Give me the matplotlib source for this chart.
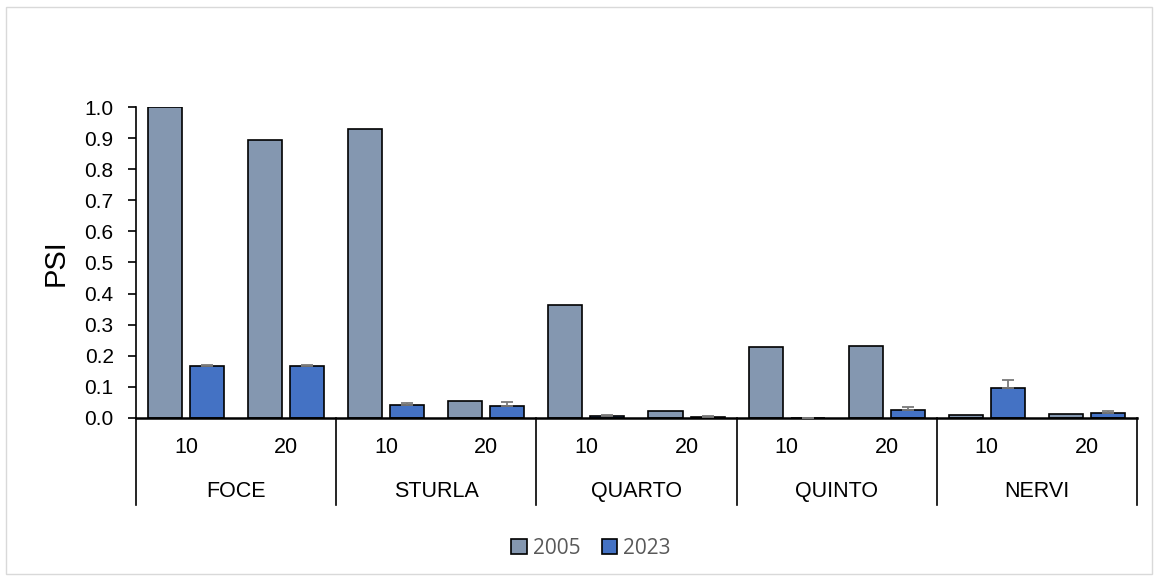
import matplotlib
matplotlib.use('Agg')
import matplotlib.pyplot as plt
import numpy as np
from matplotlib.patches import Rectangle

plt.rcParams['font.family'] = ['Liberation Sans', 'DejaVu Sans']

SITES  = ["FOCE", "STURLA", "QUARTO", "QUINTO", "NERVI"]
DEPTHS = ["10", "20"]

# PSI per site/depth, ordered FOCE10, FOCE20, STURLA10, ...
psi_2005 = [1.000, 0.895, 0.928, 0.056, 0.363, 0.023, 0.229, 0.231, 0.011, 0.013]
psi_2023 = [0.167, 0.167, 0.043, 0.040, 0.007, 0.004, 0.000, 0.027, 0.095, 0.016]
err_2023 = [0.002, 0.002, 0.006, 0.011, 0.003, 0.002, 0.000, 0.008, 0.026, 0.007]

C_2005 = '#8497B0'
C_2023 = '#4472C4'

fig = plt.figure(figsize=(11.59, 5.81), dpi=100, facecolor='white')
fig.add_artist(Rectangle((6/1159, 7/581), 1146/1159, 567/581, transform=fig.transFigure,
                         fill=False, edgecolor='#d9d9d9', lw=1.0))
ax = fig.add_axes([0.1173, 0.2806, 0.8637, 0.5352])

x = np.arange(len(psi_2005))
w = 0.34
off = 0.04 + w / 2
ax.bar(x - off, psi_2005, w, color=C_2005, edgecolor='black', lw=1.2, label='2005', zorder=2)
ax.bar(x + off, psi_2023, w, color=C_2023, edgecolor='black', lw=1.2, label='2023', zorder=2)
ax.errorbar(x + off, psi_2023, yerr=[np.zeros(len(err_2023)), err_2023], fmt='none',
            ecolor='#7a7a7a', elinewidth=1.3, capsize=4, capthick=1.3, zorder=3)

ax.set_xlim(-0.5, len(x) - 0.5)
ax.set_ylim(0, 1.0)
yt = np.arange(0, 1.01, 0.1)
ax.set_yticks(yt)
ax.set_yticklabels([f"{v:.1f}" for v in yt], fontsize=15)
ax.tick_params(axis='y', direction='out', length=6, width=1.2, pad=10)
ax.set_xticks([])
for s in ['top', 'right']:
    ax.spines[s].set_visible(False)
ax.spines['left'].set_linewidth(1.2)
ax.spines['bottom'].set_linewidth(1.8)
ax.set_ylabel('PSI', fontsize=21)
ax.yaxis.set_label_coords(-0.066, 0.5)

# two-level category axis below the plot
tr = ax.get_xaxis_transform()
for i in range(len(x)):
    ax.text(x[i], -0.095, DEPTHS[i % 2], transform=tr, ha='center', va='center', fontsize=15.5)
for g, site in enumerate(SITES):
    ax.text(2 * g + 0.5, -0.235, site, transform=tr, ha='center', va='center', fontsize=15.5)
for b in range(len(SITES) + 1):
    ax.plot([2 * b - 0.5] * 2, [0, -0.28], transform=tr, color='black', lw=1.2, clip_on=False)

leg = fig.legend(loc='center', bbox_to_anchor=(0.51, 1 - 548/581), ncol=2, frameon=False,
                 handlelength=0.75, handleheight=0.75, handletextpad=0.3, columnspacing=1.0,
                 prop={'family': 'Open Sans', 'size': 15})
for t in leg.get_texts():
    t.set_color('#595959')

fig.savefig('out.png', dpi=100, facecolor='white')
